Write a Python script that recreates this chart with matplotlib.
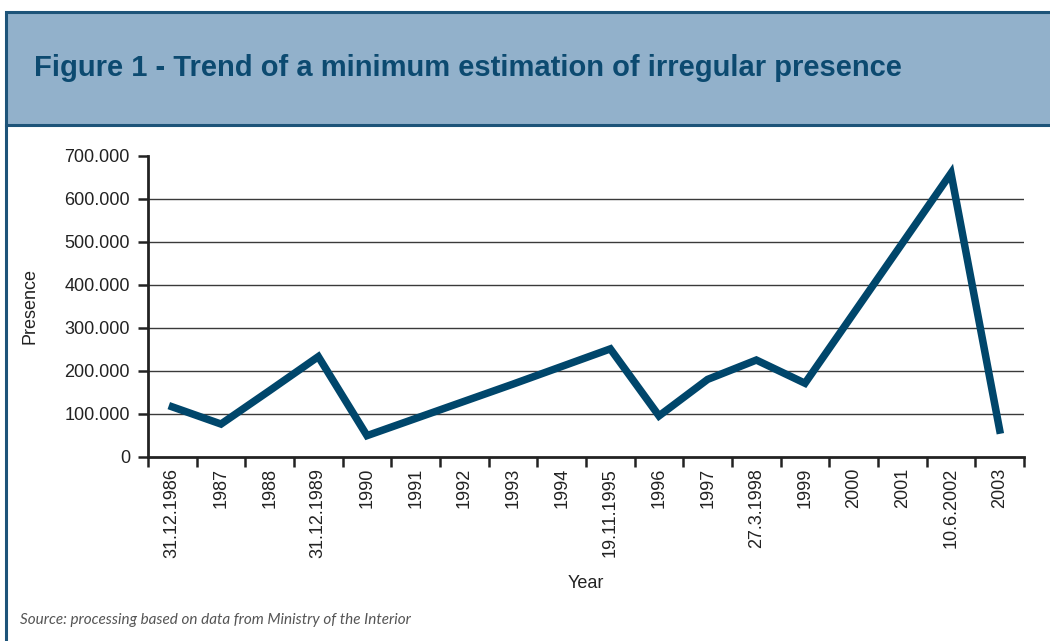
import matplotlib
matplotlib.use("Agg")
import matplotlib.pyplot as plt
from matplotlib.patches import Rectangle
from matplotlib.lines import Line2D
from matplotlib.ticker import FuncFormatter, MultipleLocator

# data
years = ["31.12.1986", "1987", "1988", "31.12.1989", "1990", "1991", "1992",
         "1993", "1994", "19.11.1995", "1996", "1997", "27.3.1998", "1999",
         "2000", "2001", "10.6.2002", "2003"]
presence = [116000, 76000, 154000, 233000, 49000, 89000, 129000, 169000,
            210000, 251000, 95000, 180000, 225000, 171000, 334000, 497000,
            660000, 62000]

title = "Figure 1 - Trend of a minimum estimation of irregular presence"
source = "Source: processing based on data from Ministry of the Interior"

navy = "#00466b"
header_fill = "#92b1cb"
border = "#1d5479"

plt.rcParams["font.family"] = ["Liberation Sans", "DejaVu Sans"]

fig = plt.figure(figsize=(10.5, 6.41), dpi=100)
W, H = 1050, 641

def fx(px):
    return px / W

def fy(py):
    return 1 - py / H

# header band with title
fig.patches.append(Rectangle((fx(6), fy(125)), fx(1060), fy(12) - fy(125),
                             transform=fig.transFigure, facecolor=header_fill,
                             edgecolor=border, linewidth=2.2, zorder=0))
fig.lines.append(Line2D([fx(6), fx(6)], [fy(125), 0], transform=fig.transFigure,
                        color=border, linewidth=2.2))
fig.text(fx(34), fy(68), title, fontsize=21, fontweight="bold", color="#0c4a70",
         va="center", ha="left")

ax = fig.add_axes([fx(148), fy(456.7), fx(1024) - fx(148), fy(156) - fy(456.7)])
x = list(range(len(years)))
ax.plot(x, presence, color=navy, linewidth=5.4, solid_joinstyle="miter", zorder=3)

ax.set_xlim(-0.5, len(years) - 0.5)
ax.set_ylim(0, 700000)
ax.yaxis.set_major_locator(MultipleLocator(100000))
ax.yaxis.set_major_formatter(FuncFormatter(lambda v, p: "0" if v == 0 else f"{int(v):,}".replace(",", ".")))

# horizontal grid lines (not at top)
for v in range(100000, 700000, 100000):
    ax.axhline(v, color="#3a3a3a", linewidth=1.0, zorder=1)

ax.set_xticks([i - 0.5 for i in range(len(years) + 1)])
ax.set_xticklabels([])
ax.set_xticks(x, minor=True)
ax.set_xticklabels(years, minor=True, rotation=90, fontsize=13, color="#222222")
ax.tick_params(axis="x", which="minor", length=0, pad=8)
ax.tick_params(axis="x", which="major", length=7, width=1.8, color="#222222", direction="out")
ax.tick_params(axis="y", length=7, width=1.8, color="#222222", labelsize=13,
               labelcolor="#222222", pad=6)

for s in ["top", "right"]:
    ax.spines[s].set_visible(False)
for s in ["left", "bottom"]:
    ax.spines[s].set_linewidth(2)
    ax.spines[s].set_color("#222222")

ax.set_ylabel("Presence", fontsize=13, color="#222222")
ax.yaxis.set_label_coords(fx(38 - 148) / (fx(1024) - fx(148)), 0.5)
fig.text(fx(586), fy(584), "Year", fontsize=13, color="#222222", ha="center", va="center")

fig.text(fx(20), fy(620), source, fontsize=11, style="italic", color="#555555",
         family=["Lato", "DejaVu Sans"], va="center", ha="left")

fig.savefig("out.png", dpi=100)
